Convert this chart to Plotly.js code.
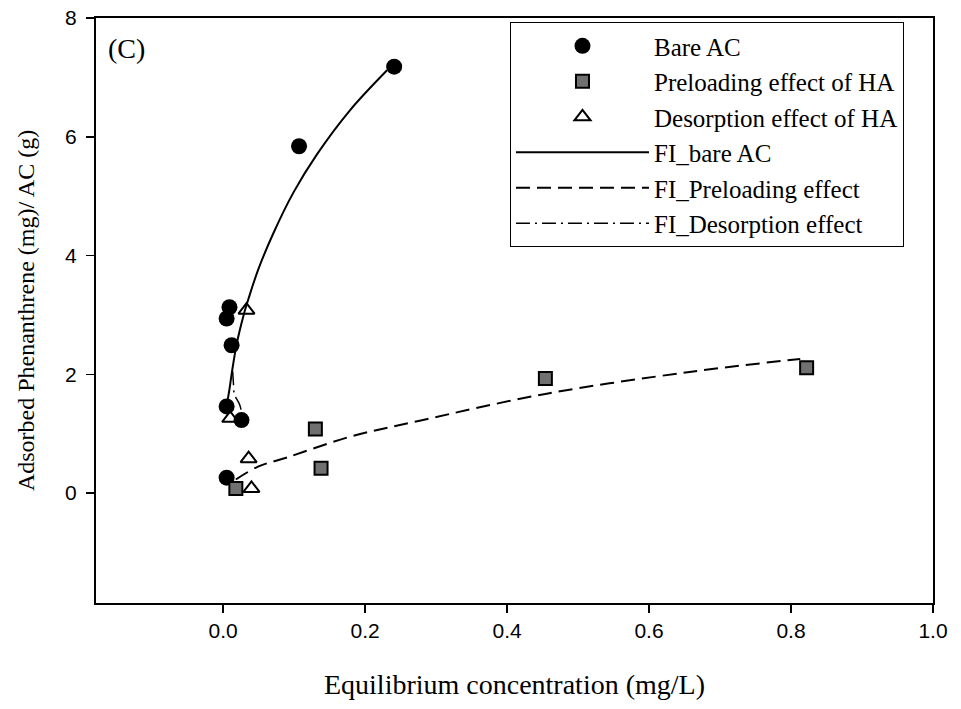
<!DOCTYPE html>
<html>
<head>
<meta charset="utf-8">
<script src="https://cdn.plot.ly/plotly-3.0.1.min.js"></script>
<style>html,body{margin:0;padding:0;background:#fff;}#chart{width:961px;height:709px;}</style>
</head>
<body>
<div id="chart"></div>
<script>
// Measured data points
const bareX = [0.005, 0.009, 0.012, 0.005, 0.026, 0.005, 0.107, 0.241];
const bareY = [2.94, 3.13, 2.49, 1.46, 1.23, 0.26, 5.84, 7.18];

const preX = [0.018, 0.130, 0.138, 0.454, 0.822];
const preY = [0.08, 1.08, 0.42, 1.93, 2.11];

const desX = [0.033, 0.010, 0.036, 0.040];
const desY = [3.08, 1.26, 0.58, 0.08];

// Fitted curves
const fitBareX = [0.0065, 0.009, 0.012, 0.019, 0.029, 0.036, 0.050, 0.071, 0.099, 0.132, 0.179, 0.231];
const fitBareY = [1.57, 1.75, 2.00, 2.50, 3.00, 3.28, 3.78, 4.38, 5.06, 5.70, 6.45, 7.12];

const fitPreX = [0.018, 0.050, 0.090, 0.179, 0.277, 0.454, 0.657, 0.813];
const fitPreY = [0.23, 0.45, 0.60, 0.95, 1.22, 1.67, 2.04, 2.26];

const fitDesX = [0.0135, 0.0146, 0.016, 0.018, 0.023, 0.026];
const fitDesY = [2.05, 1.85, 1.65, 1.61, 1.50, 1.37];

const legendNames = ['Bare AC', 'Preloading effect of HA', 'Desorption effect of HA',
                     'FI_bare AC', 'FI_Preloading effect', 'FI_Desorption effect'];
const xTicks = [0.0, 0.2, 0.4, 0.6, 0.8, 1.0];
const yTicks = [0, 2, 4, 6, 8];

const traces = [
  {x: bareX, y: bareY, mode: 'markers', type: 'scatter', name: legendNames[0],
   marker: {symbol: 'circle', size: 16, color: '#000'}},
  {x: preX, y: preY, mode: 'markers', type: 'scatter', name: legendNames[1],
   marker: {symbol: 'square', size: 13, color: '#707070', line: {color: '#000', width: 2}}},
  {x: desX, y: desY, mode: 'markers', type: 'scatter', name: legendNames[2],
   marker: {symbol: 'triangle-up-open', size: 14, color: '#000', line: {width: 2}}},
  {x: fitBareX, y: fitBareY, mode: 'lines', type: 'scatter', name: legendNames[3],
   line: {color: '#000', width: 2, shape: 'spline'}},
  {x: fitPreX, y: fitPreY, mode: 'lines', type: 'scatter', name: legendNames[4],
   line: {color: '#000', width: 2, dash: '14px,7px', shape: 'spline'}},
  {x: fitDesX, y: fitDesY, mode: 'lines', type: 'scatter', name: legendNames[5],
   line: {color: '#000', width: 1.5, dash: '14px,5px,2px,5px', shape: 'spline'}}
];

const layout = {
  width: 961, height: 709,
  margin: {l: 96, r: 28, t: 18, b: 106},
  paper_bgcolor: '#fff', plot_bgcolor: '#fff',
  font: {family: 'Liberation Serif, serif', color: '#000'},
  showlegend: true,
  legend: {
    x: 0.4946, y: 0.993, xanchor: 'left', yanchor: 'top',
    bgcolor: '#fff', bordercolor: '#000', borderwidth: 1,
    font: {family: 'Liberation Serif, serif', size: 25, color: '#000'},
    itemwidth: 133, tracegroupgap: 0
  },
  xaxis: {
    range: [-0.179, 1.0], tickvals: xTicks, ticktext: xTicks.map(v => v.toFixed(1)),
    ticks: 'outside', ticklen: 8, tickwidth: 1.5, tickcolor: '#000',
    showline: true, linecolor: '#000', linewidth: 2, mirror: true,
    showgrid: false, zeroline: false,
    tickfont: {family: 'Liberation Sans, Arial, sans-serif', size: 21, color: '#000'},
    title: {text: 'Equilibrium concentration (mg/L)', font: {family: 'Liberation Serif, serif', size: 28}, standoff: 33}
  },
  yaxis: {
    range: [-1.85, 8], tickvals: yTicks,
    ticks: 'outside', ticklen: 8, tickwidth: 1.5, tickcolor: '#000',
    ticklabelstandoff: 5,
    showline: true, linecolor: '#000', linewidth: 2, mirror: true,
    showgrid: false, zeroline: false,
    tickfont: {family: 'Liberation Sans, Arial, sans-serif', size: 21, color: '#000'},
    title: {text: 'Adsorbed Phenanthrene (mg)/ AC (g)', font: {family: 'Liberation Serif, serif', size: 24}, standoff: 24}
  },
  annotations: [
    {text: '(C)', xref: 'paper', yref: 'paper', x: 0.012, y: 0.978, xanchor: 'left', yanchor: 'top',
     showarrow: false, font: {family: 'Liberation Serif, serif', size: 28, color: '#000'}}
  ]
};

Plotly.newPlot('chart', traces, layout, {displayModeBar: false, staticPlot: true});
</script>
</body>
</html>
